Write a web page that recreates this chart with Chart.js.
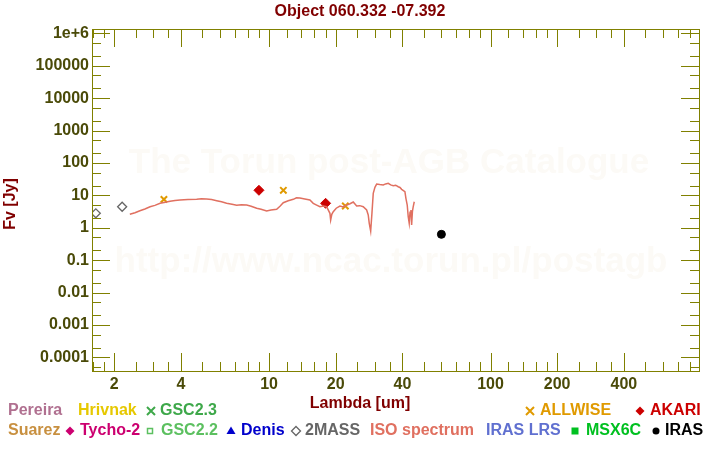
<!DOCTYPE html>
<html>
<head>
<meta charset="utf-8">
<script src="https://cdn.jsdelivr.net/npm/chart.js@4.4.1/dist/chart.umd.min.js"></script>
<style>
  html, body { margin: 0; padding: 0; background: #fff; }
  #wrap { width: 720px; height: 450px; }
</style>
</head>
<body>
<div id="wrap"><canvas id="sed"></canvas></div>
<script>
// ---- data ----
const isoLambda = [2.35, 2.48, 2.61, 2.75, 2.90, 3.05, 3.22, 3.40, 3.57, 3.76, 3.96, 4.3, 4.71, 4.95, 5.22, 5.5, 5.80, 6.1, 6.43, 6.8,
  7.14, 7.5, 7.92, 8.3, 8.79, 9.2, 9.75, 10.2, 10.82, 11.2, 11.59, 12.2, 12.86, 13.3, 13.78, 14.5, 15.29, 15.83, 16.4, 16.97,
  17.6, 18.19, 18.83, 18.97, 19.2, 19.49, 20.1, 20.89, 21.6, 22.40, 23.2, 23.99, 24.86, 25.7, 26.62, 27.58, 28.04, 28.34, 28.76, 29.14,
  29.54, 30.06, 30.6, 31.6, 32.78, 33.6, 34.52, 35.4, 36.37, 37.3, 38.30, 39.0, 39.69, 41.06, 41.49, 42.06, 42.5, 42.94, 43.3, 43.71,
  44.03, 44.4, 44.77, 45.25];
const isoFlux = [2.59, 2.9, 3.35, 3.8, 4.45, 4.9, 5.66, 6.1, 6.53, 6.9, 7.16, 7.4, 7.53, 7.9, 7.69, 7.4, 6.81, 6.3, 5.66, 5.3,
  4.91, 5.1, 5.02, 4.6, 3.97, 3.7, 3.28, 3.5, 3.70, 4.6, 5.91, 6.8, 7.53, 8.4, 8.26, 7.7, 7.16, 5.66, 5.0, 4.45,
  4.7, 4.45, 2.78, 1.73, 2.6, 3.12, 4.0, 4.68, 4.4, 5.02, 5.5, 6.21, 4.68, 4.8, 4.45, 3.52, 2.47, 1.37, 0.79, 2.78,
  11.5, 17.7, 22.3, 21.5, 20.8, 22.5, 23.5, 21, 19.8, 20.5, 18.4, 17.5, 15.3, 12.9, 8.07, 5.02, 2.2, 1.37, 3.0, 3.52,
  1.21, 3.2, 4.45, 6.34];

const twomassLambda = [1.65, 2.17];
const twomassFlux = [2.78, 4.45];
const allwiseLambda = [3.35, 11.6, 22.1];
const allwiseFlux = [7.5, 14.3, 4.68];
const akariLambda = [9.0, 18.0];
const akariFlux = [14.3, 5.66];
const irasLambda = [60];
const irasFlux = [0.625];

const xTickValues = [2, 4, 10, 20, 40, 100, 200, 400];
const xMinorValues = [1.6, 1.8, 2.5, 3, 3.5, 5, 6, 7, 8, 9, 12, 14, 16, 18, 25, 30, 35, 50, 60, 70, 80, 90,
  120, 140, 160, 180, 250, 300, 350, 500, 600, 700, 800];
const yTickValues = [1e-4, 1e-3, 1e-2, 1e-1, 1, 10, 100, 1000, 1e4, 1e5, 1e6];
const yTickLabels = ['0.0001', '0.001', '0.01', '0.1', '1', '10', '100', '1000', '10000', '100000', '1e+6'];

const pts = (xs, ys) => xs.map((x, i) => ({ x: x, y: ys[i] }));

const OLIVE = '#808000';
const TICKTXT = '#4a4a08';
const DARKRED = '#800000';
const FONT = 'bold 16px "Liberation Sans", Arial, sans-serif';

// legend layout: [text, color, x, row, symbol, symbolX]
const legendItems = [
  ['Pereira', '#b07090', 8, 0],
  ['Hrivnak', '#e6c800', 78, 0],
  ['GSC2.3', '#3ea84a', 160, 0, 'x', 151],
  ['ALLWISE', '#e09a00', 540, 0, 'x', 530],
  ['AKARI', '#cc0000', 650, 0, 'dia', 640],
  ['Suarez', '#c89040', 8, 1],
  ['Tycho-2', '#cc0070', 80, 1, 'dia', 70],
  ['GSC2.2', '#5cc060', 161, 1, 'sq', 150],
  ['Denis', '#0000cc', 241, 1, 'tri', 231],
  ['2MASS', '#666666', 305, 1, 'odia', 296],
  ['ISO spectrum', '#e07060', 370, 1],
  ['IRAS LRS', '#6070d0', 486, 1],
  ['MSX6C', '#00c020', 586, 1, 'fsq', 575],
  ['IRAS', '#000000', 665, 1, 'dot', 656]
];

function drawSymbol(ctx, kind, x, y, color) {
  ctx.save();
  ctx.fillStyle = color;
  ctx.strokeStyle = color;
  ctx.beginPath();
  if (kind === 'x') {
    ctx.lineWidth = 2;
    ctx.moveTo(x - 4, y - 4); ctx.lineTo(x + 4, y + 4);
    ctx.moveTo(x + 4, y - 4); ctx.lineTo(x - 4, y + 4);
    ctx.stroke();
  } else if (kind === 'dia' || kind === 'odia') {
    ctx.moveTo(x, y - 4.5); ctx.lineTo(x + 4.5, y); ctx.lineTo(x, y + 4.5); ctx.lineTo(x - 4.5, y); ctx.closePath();
    if (kind === 'dia') ctx.fill(); else { ctx.lineWidth = 1.3; ctx.stroke(); }
  } else if (kind === 'sq') {
    ctx.lineWidth = 1.5;
    ctx.strokeRect(x - 2.5, y - 2.5, 5, 5);
  } else if (kind === 'fsq') {
    ctx.fillRect(x - 3.5, y - 3.5, 7, 7);
  } else if (kind === 'tri') {
    ctx.moveTo(x, y - 4.5); ctx.lineTo(x + 4.5, y + 3); ctx.lineTo(x - 4.5, y + 3); ctx.closePath();
    ctx.fill();
  } else if (kind === 'dot') {
    ctx.arc(x, y, 3.5, 0, Math.PI * 2);
    ctx.fill();
  }
  ctx.restore();
}

// watermark behind the data
const watermark = {
  id: 'watermark',
  beforeDatasetsDraw(chart) {
    const ctx = chart.ctx;
    ctx.save();
    ctx.fillStyle = '#fcfaf6';
    ctx.font = 'bold 35px "Liberation Sans", Arial, sans-serif';
    ctx.textAlign = 'center';
    ctx.textBaseline = 'middle';
    ctx.fillText('The Torun post-AGB Catalogue', 389, 163);
    ctx.fillText('http://www.ncac.torun.pl/postagb', 391, 262);
    ctx.restore();
  }
};

// frame, inward ticks on all four sides, titles and legend text
const decorations = {
  id: 'decorations',
  afterDraw(chart) {
    const ctx = chart.ctx;
    const a = chart.chartArea;
    const xs = chart.scales.x, ys = chart.scales.y;
    ctx.save();
    ctx.strokeStyle = OLIVE;
    ctx.lineWidth = 1;
    ctx.strokeRect(Math.round(a.left) + 0.5, Math.round(a.top) + 0.5, Math.round(a.right - a.left), Math.round(a.bottom - a.top));
    ctx.beginPath();
    const xtick = (v, len) => {
      const px = Math.round(xs.getPixelForValue(v)) + 0.5;
      ctx.moveTo(px, a.bottom); ctx.lineTo(px, a.bottom - len);
      ctx.moveTo(px, a.top); ctx.lineTo(px, a.top + len);
    };
    const ytick = (v, len) => {
      const py = Math.round(ys.getPixelForValue(v)) + 0.5;
      ctx.moveTo(a.left, py); ctx.lineTo(a.left + len, py);
      ctx.moveTo(a.right, py); ctx.lineTo(a.right - len, py);
    };
    xTickValues.forEach(v => xtick(v, 18));
    xMinorValues.forEach(v => { if (v >= xs.min && v <= xs.max) xtick(v, 9); });
    yTickValues.forEach(v => ytick(v, 18));
    yTickValues.concat([1e-5]).forEach(v => {
      [2 * v, 5 * v].forEach(m => { if (m >= ys.min && m <= ys.max) ytick(m, 9); });
    });
    ctx.stroke();

    ctx.font = FONT;
    ctx.fillStyle = DARKRED;
    ctx.textAlign = 'center';
    ctx.textBaseline = 'middle';
    ctx.fillText('Object 060.332 -07.392', 360, 12);
    ctx.fillText('Lambda [um]', 360, 404);
    ctx.save();
    ctx.translate(11, 204);
    ctx.rotate(-Math.PI / 2);
    ctx.fillText('Fv [Jy]', 0, 0);
    ctx.restore();

    ctx.textAlign = 'left';
    legendItems.forEach(it => {
      const y = it[3] === 0 ? 411 : 431;
      ctx.fillStyle = it[1];
      ctx.fillText(it[0], it[2], y);
      if (it[4]) drawSymbol(ctx, it[4], it[5], y, it[1]);
    });
    ctx.restore();
  }
};

const ctx = document.getElementById('sed').getContext('2d');

const sedChart = new Chart(ctx, {
  type: 'scatter',
  data: {
    datasets: [
      {
        label: 'ISO spectrum',
        data: pts(isoLambda, isoFlux),
        showLine: true,
        borderColor: '#e07060',
        borderWidth: 1.5,
        pointRadius: 0,
        tension: 0
      },
      {
        label: '2MASS',
        data: pts(twomassLambda, twomassFlux),
        pointStyle: 'rectRot',
        pointRadius: 4.5,
        backgroundColor: '#ffffff',
        borderColor: '#666666',
        borderWidth: 1.3
      },
      {
        label: 'ALLWISE',
        data: pts(allwiseLambda, allwiseFlux),
        pointStyle: 'crossRot',
        pointRadius: 4.5,
        borderColor: '#e09a00',
        borderWidth: 2
      },
      {
        label: 'AKARI',
        data: pts(akariLambda, akariFlux),
        pointStyle: 'rectRot',
        pointRadius: 5,
        backgroundColor: '#cc0000',
        borderColor: '#cc0000',
        borderWidth: 1
      },
      {
        label: 'IRAS',
        data: pts(irasLambda, irasFlux),
        pointStyle: 'circle',
        pointRadius: 4,
        backgroundColor: '#000000',
        borderColor: '#000000',
        borderWidth: 1
      }
    ]
  },
  options: {
    responsive: true,
    maintainAspectRatio: false,
    animation: false,
    layout: { padding: { top: 29, right: 21, left: 0, bottom: 0 } },
    plugins: {
      legend: { display: false },
      title: { display: false },
      tooltip: { enabled: false }
    },
    scales: {
      x: {
        type: 'logarithmic',
        min: 1.586,
        max: 874,
        afterBuildTicks: s => { s.ticks = xTickValues.map(v => ({ value: v })); },
        afterFit: s => { s.height = 79; },
        ticks: {
          autoSkip: false,
          maxRotation: 0,
          padding: 4,
          color: TICKTXT,
          font: { family: '"Liberation Sans", Arial, sans-serif', size: 16, weight: 'bold' },
          callback: v => String(v)
        },
        grid: { drawOnChartArea: false, drawTicks: false },
        border: { color: OLIVE, width: 1 }
      },
      y: {
        type: 'logarithmic',
        min: 3.78e-5,
        max: 1.36e6,
        afterBuildTicks: s => { s.ticks = yTickValues.map(v => ({ value: v })); },
        afterFit: s => { s.width = 92; },
        ticks: {
          autoSkip: false,
          padding: 3,
          color: TICKTXT,
          font: { family: '"Liberation Sans", Arial, sans-serif', size: 16, weight: 'bold' },
          callback: (v, i) => yTickLabels[i]
        },
        grid: { drawOnChartArea: false, drawTicks: false },
        border: { color: OLIVE, width: 1 }
      }
    }
  },
  plugins: [watermark, decorations]
});
</script>
</body>
</html>
